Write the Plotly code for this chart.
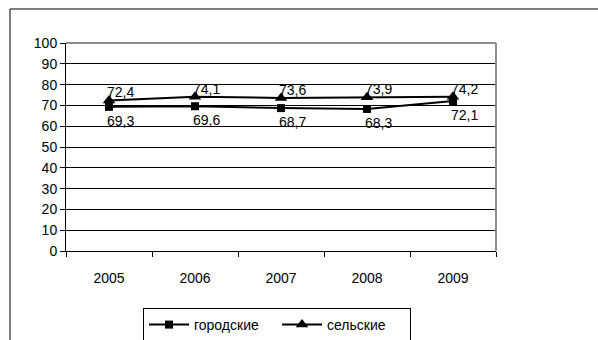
import plotly.graph_objects as go

# Годы и значения показателя по типам поселений
years = ["2005", "2006", "2007", "2008", "2009"]
urban = [69.3, 69.6, 68.7, 68.3, 72.1]
rural = [72.4, 74.1, 73.6, 73.9, 74.2]
urban_name = "городские"
rural_name = "сельские"
y_ticks = list(range(0, 101, 10))

FONT = "Liberation Sans, Arial, sans-serif"
FS = 14

def fmt(v):
    return f"{v:.1f}".replace(".", ",")

fig = go.Figure()
fig.add_trace(go.Scatter(
    x=years, y=urban, name=urban_name, mode="lines+markers",
    line=dict(color="black", width=2),
    marker=dict(symbol="square", size=8, color="black"),
))
fig.add_trace(go.Scatter(
    x=years, y=rural, name=rural_name, mode="lines+markers",
    line=dict(color="black", width=2),
    marker=dict(symbol="triangle-up", size=11, color="black"),
))

# подписи значений: позиция категории задаётся её индексом на оси
annotations = []
for i, v in enumerate(rural):
    annotations.append(dict(x=i, y=v, xref="x", yref="y", text=fmt(v),
                            showarrow=False, xanchor="left", yanchor="bottom",
                            xshift=-4, yshift=-2,
                            font=dict(family=FONT, size=FS, color="black")))
for i, v in enumerate(urban):
    annotations.append(dict(x=i, y=v, xref="x", yref="y", text=fmt(v),
                            showarrow=False, xanchor="left", yanchor="top",
                            xshift=-4, yshift=-4,
                            font=dict(family=FONT, size=FS, color="black")))

shapes = [
    # внешняя рамка области диаграммы
    dict(type="rect", xref="paper", yref="paper", x0=-0.1302, x1=1.25,
         y0=-0.46, y1=1.1635, line=dict(color="black", width=1), layer="above"),
    # серая рамка области построения (верх и право)
    dict(type="line", xref="paper", yref="paper", x0=0, x1=1, y0=1, y1=1,
         line=dict(color="#8c8c8c", width=2), layer="above"),
    dict(type="line", xref="paper", yref="paper", x0=1, x1=1, y0=0, y1=1,
         line=dict(color="#8c8c8c", width=2), layer="above"),
]

fig.update_layout(
    width=598, height=340,
    margin=dict(l=66, r=102, t=43, b=89, autoexpand=False),
    paper_bgcolor="white", plot_bgcolor="white",
    font=dict(family=FONT, size=FS, color="black"),
    showlegend=True,
    legend=dict(orientation="h", xref="container", x=277 / 598, xanchor="center",
                yref="container", y=1 - 308 / 340, yanchor="top",
                bordercolor="black", borderwidth=1, bgcolor="white",
                font=dict(family=FONT, size=FS, color="black"),
                itemwidth=40, entrywidth=78, tracegroupgap=0),
    xaxis=dict(type="category", categoryorder="array", categoryarray=years,
               range=[-0.5, len(years) - 0.5],
               showgrid=False, showline=True, linecolor="black",
               linewidth=1, ticks="outside", ticklen=5, tickcolor="black",
               tickson="boundaries", tickangle=0, ticklabelstandoff=14,
               tickfont=dict(family=FONT, size=FS),
               zeroline=False, fixedrange=True),
    yaxis=dict(range=[0, 100], tickvals=y_ticks, showgrid=True, gridcolor="black",
               gridwidth=1, showline=True, linecolor="black", linewidth=1,
               ticks="outside", ticklen=5, tickcolor="black",
               tickfont=dict(family=FONT, size=FS), zeroline=False, fixedrange=True),
    annotations=annotations,
    shapes=shapes,
)

fig.write_html("out.html")
